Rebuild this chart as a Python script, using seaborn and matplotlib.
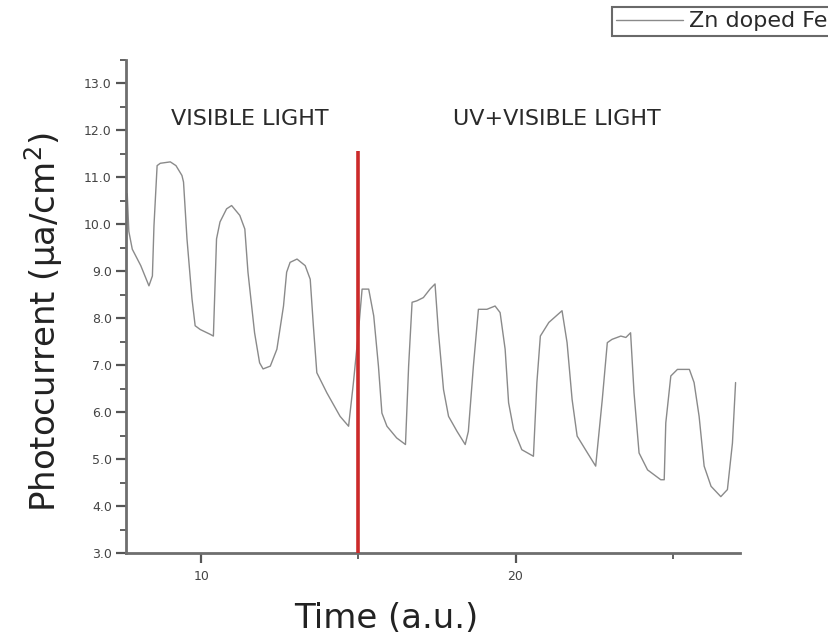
import numpy as np
import pandas as pd
import matplotlib
matplotlib.use("Agg")
import matplotlib.pyplot as plt
from matplotlib.ticker import MultipleLocator, FormatStrFormatter
import seaborn as sns

# photocurrent trace
time_au = [7.65, 7.70, 7.81, 8.08, 8.34, 8.45, 8.50, 8.60, 8.70, 9.02, 9.20, 9.39, 9.44,
           9.55, 9.71, 9.81, 9.97, 10.28, 10.39, 10.49, 10.60, 10.81, 10.97, 11.23,
           11.39, 11.49, 11.70, 11.86, 11.97, 12.20, 12.41, 12.62, 12.72, 12.83, 13.05,
           13.31, 13.47, 13.57, 13.68, 14.00, 14.42, 14.69, 14.84, 15.00, 15.12, 15.33,
           15.49, 15.64, 15.75, 15.91, 16.22, 16.50, 16.60, 16.71, 16.86, 17.07, 17.28,
           17.44, 17.55, 17.71, 17.87, 18.14, 18.40, 18.50, 18.66, 18.82, 19.09, 19.35,
           19.51, 19.67, 19.78, 19.94, 20.20, 20.57, 20.68, 20.79, 21.06, 21.48, 21.64,
           21.80, 21.96, 22.29, 22.55, 22.76, 22.92, 23.07, 23.35, 23.51, 23.66, 23.77,
           23.93, 24.20, 24.62, 24.73, 24.78, 24.94, 25.15, 25.53, 25.68, 25.84, 26.00,
           26.22, 26.53, 26.74, 26.90, 27.00]
photocurrent = [10.65, 9.85, 9.47, 9.12, 8.69, 8.90, 9.97, 11.25, 11.30, 11.33, 11.25, 11.04,
                10.90, 9.69, 8.41, 7.84, 7.76, 7.66, 7.62, 9.69, 10.05, 10.33, 10.40,
                10.19, 9.90, 8.98, 7.69, 7.05, 6.92, 6.98, 7.34, 8.26, 8.98, 9.19, 9.26,
                9.12, 8.83, 7.84, 6.84, 6.41, 5.91, 5.70, 6.60, 7.69, 8.62, 8.62, 8.05,
                6.98, 5.98, 5.70, 5.45, 5.31, 6.98, 8.34, 8.37, 8.44, 8.62, 8.73, 7.69,
                6.48, 5.91, 5.59, 5.31, 5.59, 6.98, 8.19, 8.19, 8.26, 8.12, 7.34, 6.20,
                5.63, 5.20, 5.06, 6.63, 7.62, 7.91, 8.16, 7.48, 6.27, 5.49, 5.13, 4.85,
                6.27, 7.48, 7.55, 7.62, 7.59, 7.69, 6.41, 5.13, 4.77, 4.56, 4.56, 5.77,
                6.77, 6.91, 6.91, 6.63, 5.91, 4.85, 4.42, 4.20, 4.35, 5.34, 6.63]

divider_x = 15.0
divider_top = 11.57
series_name = "Zn doped Fe"
region_labels = ["VISIBLE LIGHT", "UV+VISIBLE LIGHT"]
region_pos = [(11.54, 12.25), (21.3, 12.25)]

df = pd.DataFrame({"t": time_au, "j": photocurrent})

sns.set_style("ticks")
fig = plt.figure(figsize=(8.29, 6.43), dpi=100)
ax = fig.add_axes([0.1516, 0.140, 0.7414, 0.7667])

sns.lineplot(data=df, x="t", y="j", sort=False, estimator=None, ax=ax,
             color="#8a8a8a", lw=1.0, label=series_name)
ax.vlines(divider_x, 3.0, divider_top, color="#cc2a2a", lw=2.6, zorder=3)

for txt, (tx, ty) in zip(region_labels, region_pos):
    ax.text(tx, ty, txt, ha="center", va="center", fontsize=16, color="#2a2a2a")

ax.set_xlim(7.6, 27.15)
ax.set_ylim(3.0, 13.5)
ax.xaxis.set_major_locator(MultipleLocator(10))
ax.xaxis.set_minor_locator(MultipleLocator(5))
ax.yaxis.set_major_locator(MultipleLocator(1))
ax.yaxis.set_minor_locator(MultipleLocator(0.5))
ax.yaxis.set_major_formatter(FormatStrFormatter("%.1f"))

for side in ["top", "right"]:
    ax.spines[side].set_visible(False)
for side in ["left", "bottom"]:
    ax.spines[side].set_color("#6e6e6e")
    ax.spines[side].set_linewidth(2.0)

ax.tick_params(which="both", bottom=True, left=True, top=False, right=False)
ax.tick_params(which="major", direction="out", length=7, width=1.6, color="#555555",
               labelsize=9, labelcolor="#444444", pad=3)
ax.tick_params(which="minor", direction="out", length=4, width=1.3, color="#555555")
ax.tick_params(axis="x", which="major", pad=5)

ax.set_xlabel("Time (a.u.)", fontsize=24.5, color="#222222")
ax.set_ylabel(r"Photocurrent ($\mathregular{\mu}$a/cm$^\mathregular{2}$)", fontsize=24.5,
              color="#222222")
ax.xaxis.set_label_coords(0.424, -0.10)
ax.yaxis.set_label_coords(-0.098, 0.469)

leg = ax.legend(loc="upper left", bbox_to_anchor=(612 / 829, 1 - 7 / 643),
                bbox_transform=fig.transFigure, fontsize=16, frameon=True,
                fancybox=False, handlelength=3.0, borderpad=0.2, handletextpad=0.25,
                borderaxespad=0.0)
leg.get_frame().set_edgecolor("#444444")
leg.get_frame().set_linewidth(1.5)
for t in leg.get_texts():
    t.set_color("#2a2a2a")

fig.savefig("out.png", dpi=100)
